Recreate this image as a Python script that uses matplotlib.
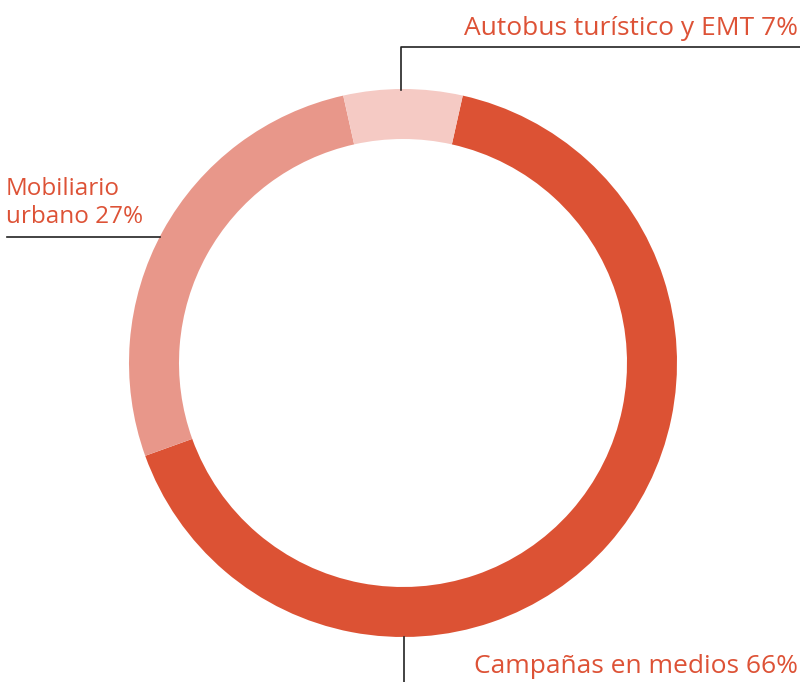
import matplotlib
matplotlib.use("Agg")
import matplotlib.pyplot as plt

labels = ["Campañas en medios 66%", "Mobiliario\nurbano 27%", "Autobus turístico y EMT 7%"]
values = [66, 27, 7]
colors = ["#DC5234", "#E8978A", "#F5CAC4"]
text_color = "#DD5236"

W, H = 800, 682
fig = plt.figure(figsize=(W / 100, H / 100), dpi=100)
ax = fig.add_axes([0, 0, 1, 1])

cx, cy, R = 403, H - 363, 274
start = 90 - values[2] / 2 * 3.6
ax.pie(values, colors=colors, startangle=start, counterclock=False,
       center=(cx, cy), radius=R, frame=True,
       wedgeprops=dict(width=50, linewidth=0))
ax.set_xlim(0, W)
ax.set_ylim(0, H)
ax.set_aspect("equal")
ax.axis("off")

font = dict(family="Open Sans", color=text_color)
lc = "#222222"
# Autobus
ax.plot([401, 401, 800], [H - 90, H - 47, H - 47], color=lc, lw=1.2)
ax.text(798, H - 35, labels[2], ha="right", va="baseline", fontsize=19, **font)
# Mobiliario
ax.plot([7, 160], [H - 237, H - 237], color=lc, lw=1.2)
ax.text(6, H - 223, labels[1], ha="left", va="baseline", linespacing=1.22,
        fontsize=17.5, **font)
# Campañas
ax.plot([404, 404], [H - 637, 0], color=lc, lw=1.2)
ax.text(798, H - 673, labels[0], ha="right", va="baseline", fontsize=19, **font)

fig.savefig("out.png", dpi=100)
